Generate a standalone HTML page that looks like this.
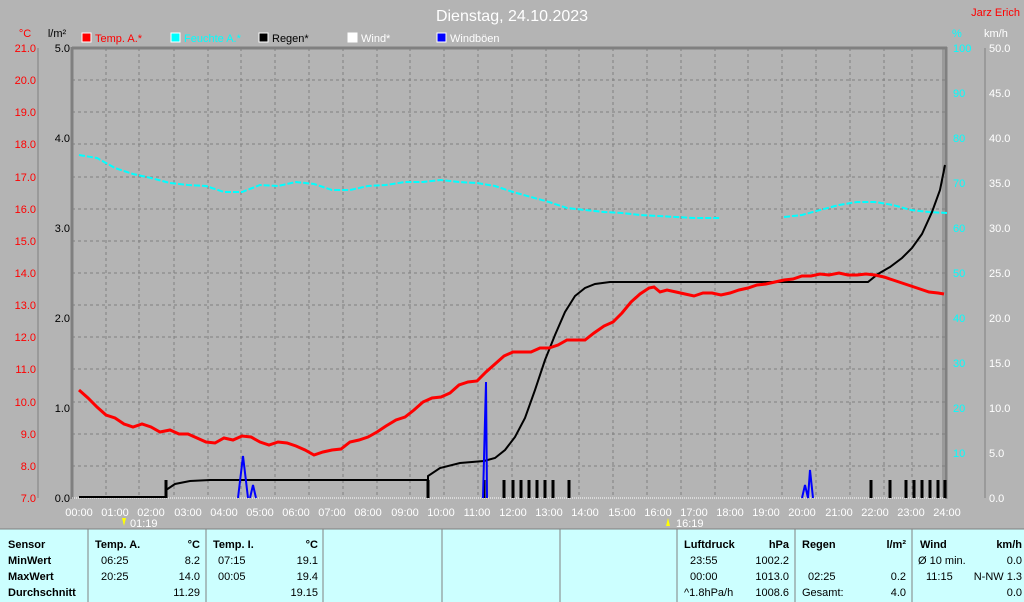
<!DOCTYPE html><html><head><meta charset="utf-8"><style>body{margin:0;width:1024px;height:602px;overflow:hidden;background:#b4b4b4}svg{display:block;font-family:"Liberation Sans",sans-serif}</style></head><body>
<svg width="1024" height="602" viewBox="0 0 1024 602">
<rect width="1024" height="602" fill="#b4b4b4"/>
<text x="512" y="21" fill="#fff" font-size="16" text-anchor="middle">Dienstag, 24.10.2023</text>
<text x="1020" y="16" fill="#f00" font-size="11" text-anchor="end">Jarz Erich</text>
<text x="25" y="37" fill="#f00" font-size="11" text-anchor="middle">°C</text>
<text x="57" y="37" fill="#000" font-size="11" text-anchor="middle">l/m²</text>
<text x="952" y="37" fill="#0ff" font-size="11">%</text>
<text x="984" y="37" fill="#fff" font-size="11">km/h</text>
<g font-size="11">
<rect x="82" y="33" width="9" height="9" fill="#f00" stroke="#fff"/><text x="95" y="42" fill="#f00">Temp. A.*</text>
<rect x="171" y="33" width="9" height="9" fill="#0ff" stroke="#fff"/><text x="184" y="42" fill="#0ff">Feuchte A.*</text>
<rect x="259" y="33" width="9" height="9" fill="#000" stroke="#fff"/><text x="272" y="42" fill="#000">Regen*</text>
<rect x="348" y="33" width="9" height="9" fill="#fff" stroke="#fff"/><text x="361" y="42" fill="#fff">Wind*</text>
<rect x="437" y="33" width="9" height="9" fill="#00f" stroke="#fff"/><text x="450" y="42" fill="#fff">Windböen</text>
</g>
<g stroke="#808080" stroke-dasharray="3,3" stroke-width="1">
<line x1="106" y1="48" x2="106" y2="498"/><line x1="139" y1="48" x2="139" y2="498"/><line x1="174" y1="48" x2="174" y2="498"/><line x1="208" y1="48" x2="208" y2="498"/><line x1="241" y1="48" x2="241" y2="498"/><line x1="275" y1="48" x2="275" y2="498"/><line x1="309" y1="48" x2="309" y2="498"/><line x1="343" y1="48" x2="343" y2="498"/><line x1="377" y1="48" x2="377" y2="498"/><line x1="410" y1="48" x2="410" y2="498"/><line x1="444" y1="48" x2="444" y2="498"/><line x1="478" y1="48" x2="478" y2="498"/><line x1="512" y1="48" x2="512" y2="498"/><line x1="546" y1="48" x2="546" y2="498"/><line x1="579" y1="48" x2="579" y2="498"/><line x1="613" y1="48" x2="613" y2="498"/><line x1="647" y1="48" x2="647" y2="498"/><line x1="681" y1="48" x2="681" y2="498"/><line x1="715" y1="48" x2="715" y2="498"/><line x1="748" y1="48" x2="748" y2="498"/><line x1="782" y1="48" x2="782" y2="498"/><line x1="816" y1="48" x2="816" y2="498"/><line x1="850" y1="48" x2="850" y2="498"/><line x1="884" y1="48" x2="884" y2="498"/><line x1="912" y1="48" x2="912" y2="498"/>
<line x1="72" y1="80" x2="945" y2="80"/><line x1="72" y1="112" x2="945" y2="112"/><line x1="72" y1="144" x2="945" y2="144"/><line x1="72" y1="177" x2="945" y2="177"/><line x1="72" y1="209" x2="945" y2="209"/><line x1="72" y1="241" x2="945" y2="241"/><line x1="72" y1="273" x2="945" y2="273"/><line x1="72" y1="305" x2="945" y2="305"/><line x1="72" y1="337" x2="945" y2="337"/><line x1="72" y1="369" x2="945" y2="369"/><line x1="72" y1="402" x2="945" y2="402"/><line x1="72" y1="434" x2="945" y2="434"/><line x1="72" y1="466" x2="945" y2="466"/>
</g>
<g stroke="#808080" stroke-width="3" fill="none"><line x1="72" y1="48" x2="947" y2="48"/><line x1="72" y1="47" x2="72" y2="499"/><line x1="946" y1="47" x2="946" y2="499"/></g>
<line x1="943" y1="48" x2="943" y2="498" stroke="#808080"/>
<line x1="72" y1="498" x2="945" y2="498" stroke="#fff" stroke-dasharray="1,1"/>
<g stroke="#808080"><line x1="38" y1="48" x2="38" y2="498"/><line x1="985" y1="48" x2="985" y2="498"/></g>
<g font-size="11" fill="#f00" text-anchor="end">
<text x="36" y="52">21.0</text><text x="36" y="84">20.0</text><text x="36" y="116">19.0</text><text x="36" y="148">18.0</text><text x="36" y="181">17.0</text><text x="36" y="213">16.0</text><text x="36" y="245">15.0</text><text x="36" y="277">14.0</text><text x="36" y="309">13.0</text><text x="36" y="341">12.0</text><text x="36" y="373">11.0</text><text x="36" y="406">10.0</text><text x="36" y="438">9.0</text><text x="36" y="470">8.0</text><text x="36" y="502">7.0</text></g>
<g font-size="11" fill="#000" text-anchor="end"><text x="70" y="52">5.0</text><text x="70" y="142">4.0</text><text x="70" y="232">3.0</text><text x="70" y="322">2.0</text><text x="70" y="412">1.0</text><text x="70" y="502">0.0</text></g>
<g font-size="11" fill="#0ff"><text x="953" y="52">100</text><text x="953" y="97">90</text><text x="953" y="142">80</text><text x="953" y="187">70</text><text x="953" y="232">60</text><text x="953" y="277">50</text><text x="953" y="322">40</text><text x="953" y="367">30</text><text x="953" y="412">20</text><text x="953" y="457">10</text></g>
<g font-size="11" fill="#fff"><text x="989" y="52">50.0</text><text x="989" y="97">45.0</text><text x="989" y="142">40.0</text><text x="989" y="187">35.0</text><text x="989" y="232">30.0</text><text x="989" y="277">25.0</text><text x="989" y="322">20.0</text><text x="989" y="367">15.0</text><text x="989" y="412">10.0</text><text x="989" y="457">5.0</text><text x="989" y="502">0.0</text></g>
<g font-size="11" fill="#fff" text-anchor="middle">
<text x="79" y="516">00:00</text><text x="115" y="516">01:00</text><text x="151" y="516">02:00</text><text x="188" y="516">03:00</text><text x="224" y="516">04:00</text><text x="260" y="516">05:00</text><text x="296" y="516">06:00</text><text x="332" y="516">07:00</text><text x="368" y="516">08:00</text><text x="405" y="516">09:00</text><text x="441" y="516">10:00</text><text x="477" y="516">11:00</text><text x="513" y="516">12:00</text><text x="549" y="516">13:00</text><text x="585" y="516">14:00</text><text x="622" y="516">15:00</text><text x="658" y="516">16:00</text><text x="694" y="516">17:00</text><text x="730" y="516">18:00</text><text x="766" y="516">19:00</text><text x="802" y="516">20:00</text><text x="839" y="516">21:00</text><text x="875" y="516">22:00</text><text x="911" y="516">23:00</text><text x="947" y="516">24:00</text></g>
<text x="130" y="527" font-size="11" fill="#fff">01:19</text><text x="676" y="527" font-size="11" fill="#fff">16:19</text>
<polygon points="122,518 126,518 124,526" fill="#ff0"/><polygon points="666,526 670,526 668,518" fill="#ff0"/>
<polyline fill="none" stroke="#0ff" stroke-width="2" stroke-dasharray="6,2" points="79,155 97,158 115,168 133,174 151,178 170,183 188,185 206,186 224,192 242,192 260,185 278,186 296,182 314,184 332,190 350,190 368,186 386,185 405,182 423,182 441,180 459,182 477,183 495,186 513,192 531,197 549,202 567,208 585,210 604,212 622,213 640,215 658,216 676,217 694,218 712,218 720,218"/>
<polyline fill="none" stroke="#0ff" stroke-width="2" stroke-dasharray="6,2" points="784,217 802,215 820,210 839,205 857,202 875,202 893,205 911,210 929,212 947,213"/>
<polyline fill="none" stroke="#000" stroke-width="2" points="79,497 166,497 166,490 175,484 190,481 210,480 428,480 428,476 440,468 460,463 484,461 495,458 505,450 515,437 525,418 535,390 545,360 555,335 565,312 575,296 585,288 595,284 610,282 868,282 878,274 890,267 902,258 912,248 922,234 932,212 940,190 945,165"/>
<g stroke="#000" stroke-width="3"><line x1="166" y1="480" x2="166" y2="498"/><line x1="428" y1="480" x2="428" y2="498"/><line x1="484" y1="480" x2="484" y2="498"/><line x1="504" y1="480" x2="504" y2="498"/><line x1="513" y1="480" x2="513" y2="498"/><line x1="521" y1="480" x2="521" y2="498"/><line x1="529" y1="480" x2="529" y2="498"/><line x1="537" y1="480" x2="537" y2="498"/><line x1="545" y1="480" x2="545" y2="498"/><line x1="553" y1="480" x2="553" y2="498"/><line x1="569" y1="480" x2="569" y2="498"/><line x1="871" y1="480" x2="871" y2="498"/><line x1="890" y1="480" x2="890" y2="498"/><line x1="906" y1="480" x2="906" y2="498"/><line x1="914" y1="480" x2="914" y2="498"/><line x1="922" y1="480" x2="922" y2="498"/><line x1="930" y1="480" x2="930" y2="498"/><line x1="938" y1="480" x2="938" y2="498"/><line x1="945" y1="480" x2="945" y2="498"/></g>
<polyline fill="none" stroke="#f00" stroke-width="3" points="79,390 88,398 97,407 106,415 115,418 124,424 133,427 142,424 151,427 160,432 170,430 179,434 188,434 197,438 206,442 215,443 224,438 233,440 242,436 251,437 260,442 269,445 278,442 287,443 296,446 305,450 314,455 323,452 332,450 341,449 350,442 359,440 368,437 377,432 386,426 396,420 405,417 414,410 423,402 432,398 441,397 450,393 459,385 468,382 477,381 486,372 495,364 504,356 513,352 522,352 531,352 540,348 549,348 558,345 567,340 576,340 585,340 594,333 604,326 613,322 622,313 631,302 640,294 649,288 654,287 660,292 667,290 676,292 685,294 694,296 703,293 712,293 721,295 730,293 739,290 748,288 757,285 766,284 775,282 784,280 793,279 802,276 811,276 820,274 829,275 839,273 848,275 857,275 866,274 875,275 884,277 893,280 902,283 911,286 920,289 929,292 938,293 944,294"/>
<g stroke="#00f" stroke-width="2" fill="none"><polyline points="238,498 243,456 248,498"/><polyline points="250,498 253,485 256,498"/><polyline points="483,498 485,420 486,382 487,498"/><polyline points="802,498 805,485 808,498 810,470 813,498"/></g>
<rect x="0" y="529" width="1024" height="73" fill="#ccffff"/>
<g stroke="#808080"><line x1="0" y1="529" x2="1024" y2="529"/><line x1="88" y1="529" x2="88" y2="602"/><line x1="206" y1="529" x2="206" y2="602"/><line x1="323" y1="529" x2="323" y2="602"/><line x1="442" y1="529" x2="442" y2="602"/><line x1="560" y1="529" x2="560" y2="602"/><line x1="677" y1="529" x2="677" y2="602"/><line x1="795" y1="529" x2="795" y2="602"/><line x1="912" y1="529" x2="912" y2="602"/></g>
<g font-size="11" fill="#000">
<g font-weight="bold"><text x="8" y="548">Sensor</text><text x="8" y="564">MinWert</text><text x="8" y="580">MaxWert</text><text x="8" y="596">Durchschnitt</text>
<text x="95" y="548">Temp. A.</text><text x="200" y="548" text-anchor="end">°C</text>
<text x="213" y="548">Temp. I.</text><text x="318" y="548" text-anchor="end">°C</text>
<text x="684" y="548">Luftdruck</text><text x="789" y="548" text-anchor="end">hPa</text>
<text x="802" y="548">Regen</text><text x="906" y="548" text-anchor="end">l/m²</text>
<text x="920" y="548">Wind</text><text x="1022" y="548" text-anchor="end">km/h</text></g>
<text x="101" y="564">06:25</text><text x="200" y="564" text-anchor="end">8.2</text>
<text x="101" y="580">20:25</text><text x="200" y="580" text-anchor="end">14.0</text>
<text x="200" y="596" text-anchor="end">11.29</text>
<text x="218" y="564">07:15</text><text x="318" y="564" text-anchor="end">19.1</text>
<text x="218" y="580">00:05</text><text x="318" y="580" text-anchor="end">19.4</text>
<text x="318" y="596" text-anchor="end">19.15</text>
<text x="690" y="564">23:55</text><text x="789" y="564" text-anchor="end">1002.2</text>
<text x="690" y="580">00:00</text><text x="789" y="580" text-anchor="end">1013.0</text>
<text x="684" y="596">^1.8hPa/h</text><text x="789" y="596" text-anchor="end">1008.6</text>
<text x="808" y="580">02:25</text><text x="906" y="580" text-anchor="end">0.2</text>
<text x="802" y="596">Gesamt:</text><text x="906" y="596" text-anchor="end">4.0</text>
<text x="918" y="564">Ø 10 min.</text><text x="1022" y="564" text-anchor="end">0.0</text>
<text x="926" y="580">11:15</text><text x="1022" y="580" text-anchor="end">N-NW 1.3</text>
<text x="1022" y="596" text-anchor="end">0.0</text>
</g>
</svg></body></html>
